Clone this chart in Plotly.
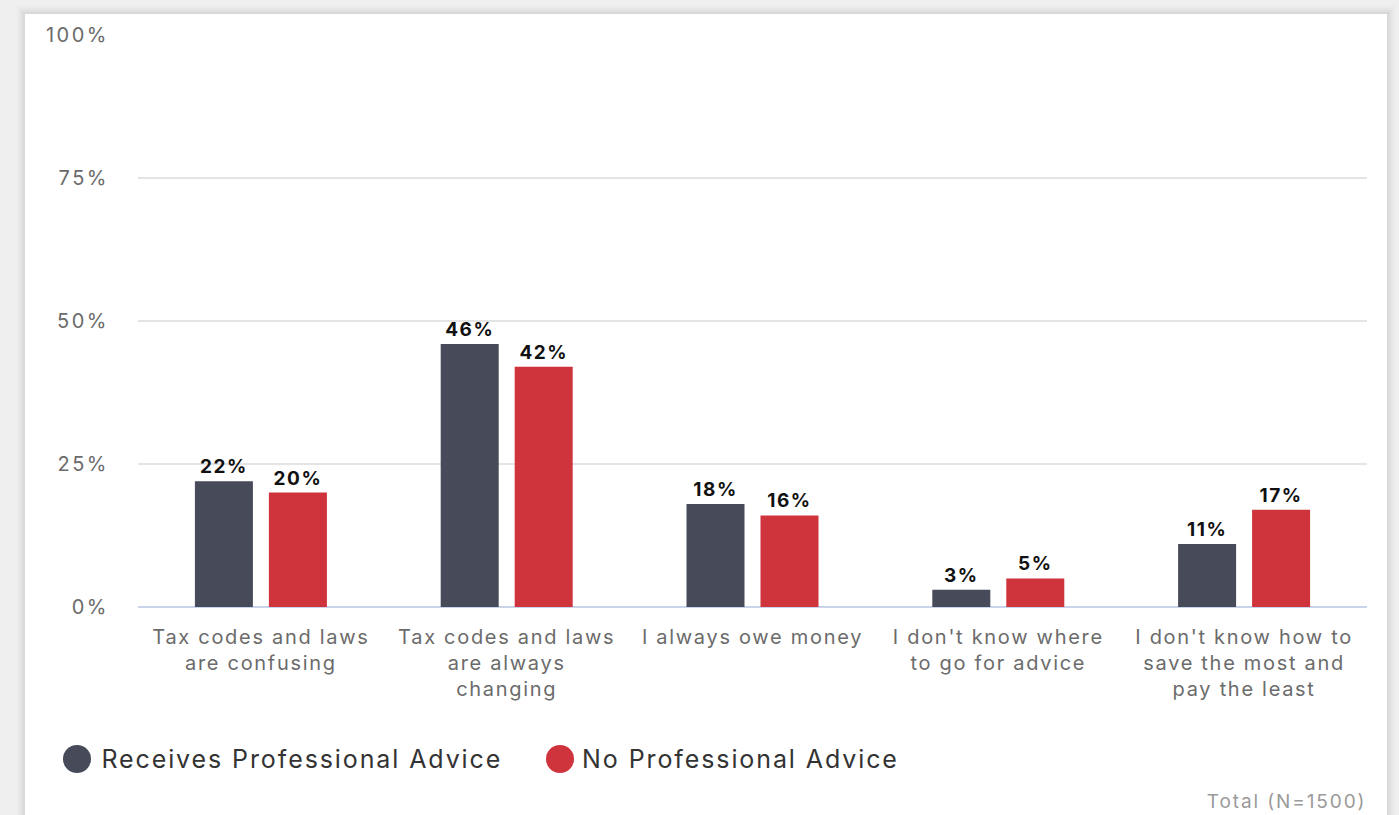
import plotly.graph_objects as go

# Survey answers: reasons people find taxes difficult
categories = [
    "Tax codes and laws<br>are confusing",
    "Tax codes and laws<br>are always<br>changing",
    "I always owe money",
    "I don't know where<br>to go for advice",
    "I don't know how to<br>save the most and<br>pay the least",
]
series_names = ["Receives Professional Advice", "No Professional Advice"]
advice_values = [22, 46, 18, 3, 11]
no_advice_values = [20, 42, 16, 5, 17]
series_colors = ["#474a59", "#cf333b"]
y_ticks = [0, 25, 50, 75, 100]
y_tick_labels = ["0%", "25%", "50%", "75%", "100%"]
footnote = "Total (N=1500)"

BODY_FONT = "Inter"

fig = go.Figure()
for name, vals, col in zip(series_names, [advice_values, no_advice_values], series_colors):
    fig.add_trace(go.Bar(
        x=categories, y=vals, name=name,
        marker=dict(color=col, line=dict(width=0)),
        text=[f"{v}%" for v in vals],
        textposition="outside",
        textfont=dict(family=BODY_FONT, size=19, color="#111111", weight="bold"),
        cliponaxis=False,
        showlegend=False,
        hoverinfo="skip",
    ))

# Plot area spans x 138..1367, y 35..607 in pixels
W, H = 1399, 815
L, R, T, B = 138, 32, 35, 208
pw, ph = W - L - R, H - T - B


def px_x(x):
    return (x - L) / pw


def px_y(y):
    return (H - B - y) / ph


shapes = []
# soft shadow around the white card
for i, a in enumerate([0.015, 0.02, 0.025, 0.03]):
    d = 8 - 2 * i
    shapes.append(dict(type="rect", xref="paper", yref="paper", layer="below",
                       x0=px_x(25 - d), x1=px_x(1387 + d), y0=px_y(830), y1=px_y(14 - d),
                       line=dict(width=0), fillcolor=f"rgba(0,0,0,{a})"))
shapes.append(dict(type="rect", xref="paper", yref="paper", layer="below",
                   x0=px_x(25), x1=px_x(1387), y0=px_y(830), y1=px_y(14),
                   line=dict(width=0), fillcolor="#ffffff"))

# Legend drawn as circles with labels (labels centred in their slot)
annotations = []
legend_dots = [77, 560]
legend_text_centres = [302, 740]
for name, col, cx, tx in zip(series_names, series_colors, legend_dots, legend_text_centres):
    cy = 759
    r = 14
    shapes.append(dict(type="circle", xref="paper", yref="paper",
                       x0=px_x(cx - r), x1=px_x(cx + r), y0=px_y(cy + r), y1=px_y(cy - r),
                       line=dict(width=0), fillcolor=col))
    annotations.append(dict(xref="paper", yref="paper", x=px_x(tx), y=px_y(cy),
                            xanchor="center", yanchor="middle", showarrow=False,
                            text=name, font=dict(family=BODY_FONT, size=25, color="#333333")))

annotations.append(dict(xref="paper", yref="paper", x=px_x(1286), y=px_y(801),
                        xanchor="center", yanchor="middle", showarrow=False,
                        text=footnote, font=dict(family=BODY_FONT, size=19, color="#9a9a9a")))

fig.update_layout(
    width=W, height=H,
    margin=dict(l=L, r=R, t=T, b=B),
    paper_bgcolor="#efefef",
    plot_bgcolor="rgba(0,0,0,0)",
    barmode="group",
    bargap=0.398,
    bargroupgap=0.216,
    shapes=shapes,
    annotations=annotations,
    xaxis=dict(
        showgrid=False, ticks="", showline=False,
        tickfont=dict(family=BODY_FONT, size=20, color="#6b6b6b"),
        ticklabelstandoff=16,
        fixedrange=True,
    ),
    yaxis=dict(
        range=[0, 100], tickvals=y_ticks, ticktext=y_tick_labels,
        showgrid=True, gridcolor="#e4e4e4", gridwidth=1.5,
        zeroline=True, zerolinecolor="#c9d3ea", zerolinewidth=2,
        tickfont=dict(family=BODY_FONT, size=20, color="#6b6b6b"),
        ticklabelstandoff=28,
        showline=False, ticks="",
        fixedrange=True,
    ),
    showlegend=False,
)

# Tracked (letter-spaced) typography, applied before the final layout pass
post = """
var gd = document.getElementById('{plot_id}');
var s = document.createElement('style');
s.textContent = '.xtick text{letter-spacing:1.7px}' +
                '.ytick text{letter-spacing:2.5px}' +
                '.bartext{letter-spacing:1.5px}' +
                '.annotation-text{letter-spacing:1.9px}';
document.head.appendChild(s);
Plotly.newPlot(gd, gd.data, gd.layout, {displayModeBar: false});
"""

fig.write_html("out.html", post_script=post, config={"displayModeBar": False})
